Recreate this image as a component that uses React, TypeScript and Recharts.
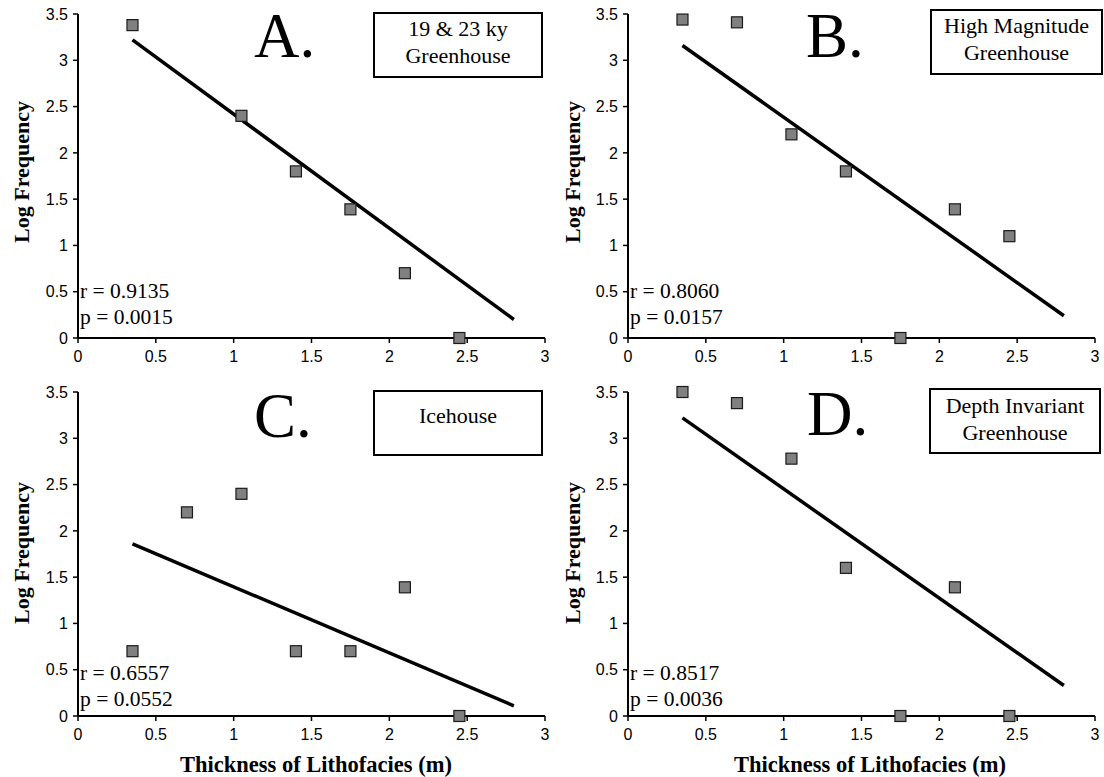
import { ScatterChart, Scatter, XAxis, YAxis } from "recharts";

// thickness of lithofacies (m) and log frequency, per panel
const thicknessA = [0.35, 1.05, 1.4, 1.75, 2.1, 2.45];
const logFreqA = [3.38, 2.4, 1.8, 1.39, 0.7, 0];
const thicknessB = [0.35, 0.7, 1.05, 1.4, 1.75, 2.1, 2.45];
const logFreqB = [3.44, 3.41, 2.2, 1.8, 0, 1.39, 1.1];
const thicknessC = [0.35, 0.7, 1.05, 1.4, 1.75, 2.1, 2.45];
const logFreqC = [0.7, 2.2, 2.4, 0.7, 0.7, 1.39, 0];
const thicknessD = [0.35, 0.7, 1.05, 1.4, 1.75, 2.1, 2.45];
const logFreqD = [3.5, 3.38, 2.78, 1.6, 0, 1.39, 0];

// regression line ends
const fitX = [0.35, 2.8];
const fitA = [3.22, 0.2];
const fitB = [3.16, 0.24];
const fitC = [1.86, 0.11];
const fitD = [3.22, 0.33];

const xTicks = [0, 0.5, 1, 1.5, 2, 2.5, 3];
const yTicks = [0, 0.5, 1, 1.5, 2, 2.5, 3, 3.5];

const letters = ["A.", "B.", "C.", "D."];
const boxLines = [["19 & 23 ky", "Greenhouse"], ["High Magnitude", "Greenhouse"], ["Icehouse"], ["Depth Invariant", "Greenhouse"]];
const rValues = ["0.9135", "0.8060", "0.6557", "0.8517"];
const pValues = ["0.0015", "0.0157", "0.0552", "0.0036"];

const serif = "'Liberation Serif', 'Times New Roman', serif";
const sans = "'Liberation Sans', Arial, sans-serif";

const toPoints = (xs: number[], ys: number[]) => xs.map((x, i) => ({ x, y: ys[i] }));

const Square = (p: any) => (
    <rect x={p.cx - 5.5} y={p.cy - 5.5} width={11} height={11} fill="#808080" stroke="#1a1a1a" strokeWidth={1.2} />
);

const NoDot = () => <g />;

interface PanelProps {
    left: number;
    top: number;
    width: number;
    marginRight: number;
    points: { x: number; y: number }[];
    fit: { x: number; y: number }[];
}

function Panel({ left, top, width, marginRight, points, fit }: PanelProps) {
    const tick = { fill: "#000", fontSize: 16, fontFamily: sans };
    return (
        <div style={{ position: "absolute", left, top }}>
            <ScatterChart width={width} height={370} margin={{ top: 14, right: marginRight, bottom: 6, left: 0 }}>
                <XAxis
                    type="number"
                    dataKey="x"
                    domain={[0, 3]}
                    ticks={xTicks}
                    interval={0}
                    height={26}
                    tick={tick}
                    tickSize={5}
                    tickMargin={8}
                    axisLine={{ stroke: "#000", strokeWidth: 2 }}
                    tickLine={{ stroke: "#000", strokeWidth: 1.5 }}
                />
                <YAxis
                    type="number"
                    dataKey="y"
                    domain={[0, 3.5]}
                    ticks={yTicks}
                    interval={0}
                    width={78}
                    tick={tick}
                    tickSize={5}
                    tickMargin={5}
                    axisLine={{ stroke: "#000", strokeWidth: 2 }}
                    tickLine={{ stroke: "#000", strokeWidth: 1.5 }}
                />
                <Scatter data={fit} line={{ stroke: "#000", strokeWidth: 3.5 }} shape={NoDot} isAnimationActive={false} />
                <Scatter data={points} shape={Square} isAnimationActive={false} />
            </ScatterChart>
        </div>
    );
}

// annotation anchors per panel: [letterX, letterBaseline, boxX, boxY, boxW, boxH, textBaseline, rBaseline]
const notes = [
    [254, 57, 374, 13, 168, 64, 36, 298],
    [806, 57, 931, 10, 171, 64, 33, 298],
    [254, 437, 374, 391, 168, 64, 423, 680],
    [807, 435, 930, 389, 170, 64, 413, 680],
];
const textLeft = [80, 630, 80, 630];

export default function App() {
    return (
        <div style={{ position: "absolute", left: 0, top: 0, width: 1104, height: 777, background: "#fff" }}>
            <Panel left={0} top={0} width={560} marginRight={15} points={toPoints(thicknessA, logFreqA)} fit={toPoints(fitX, fitA)} />
            <Panel left={550} top={0} width={554} marginRight={9} points={toPoints(thicknessB, logFreqB)} fit={toPoints(fitX, fitB)} />
            <Panel left={0} top={378} width={560} marginRight={15} points={toPoints(thicknessC, logFreqC)} fit={toPoints(fitX, fitC)} />
            <Panel left={550} top={378} width={554} marginRight={9} points={toPoints(thicknessD, logFreqD)} fit={toPoints(fitX, fitD)} />

            <svg width={1104} height={777} style={{ position: "absolute", left: 0, top: 0, pointerEvents: "none" }}>
                {notes.map((n, i) => (
                    <g key={i}>
                        <text x={n[0]} y={n[1]} fontFamily={serif} fontSize={63} fill="#000">{letters[i]}</text>
                        <rect x={n[2]} y={n[3]} width={n[4]} height={n[5]} fill="#fff" stroke="#000" strokeWidth={2} />
                        {boxLines[i].map((s, j) => (
                            <text key={j} x={n[2] + n[4] / 2} y={n[6] + j * 27} textAnchor="middle" fontFamily={serif} fontSize={22} fill="#000">{s}</text>
                        ))}
                        <text x={textLeft[i]} y={n[7]} fontFamily={serif} fontSize={21.5} fill="#000">{"r = " + rValues[i]}</text>
                        <text x={textLeft[i]} y={n[7] + 26} fontFamily={serif} fontSize={21.5} fill="#000">{"p = " + pValues[i]}</text>
                    </g>
                ))}
                {[172, 172, 553, 553].map((cy, i) => (
                    <text key={"yl" + i} x={0} y={0} transform={`translate(${i % 2 === 0 ? 29 : 580}, ${cy}) rotate(-90)`} textAnchor="middle" fontFamily={serif} fontWeight="bold" fontSize={22} fill="#000">Log Frequency</text>
                ))}
                <text x={316} y={772} textAnchor="middle" fontFamily={serif} fontWeight="bold" fontSize={22.5} fill="#000">Thickness of Lithofacies (m)</text>
                <text x={870} y={772} textAnchor="middle" fontFamily={serif} fontWeight="bold" fontSize={22.5} fill="#000">Thickness of Lithofacies (m)</text>
            </svg>
        </div>
    );
}
